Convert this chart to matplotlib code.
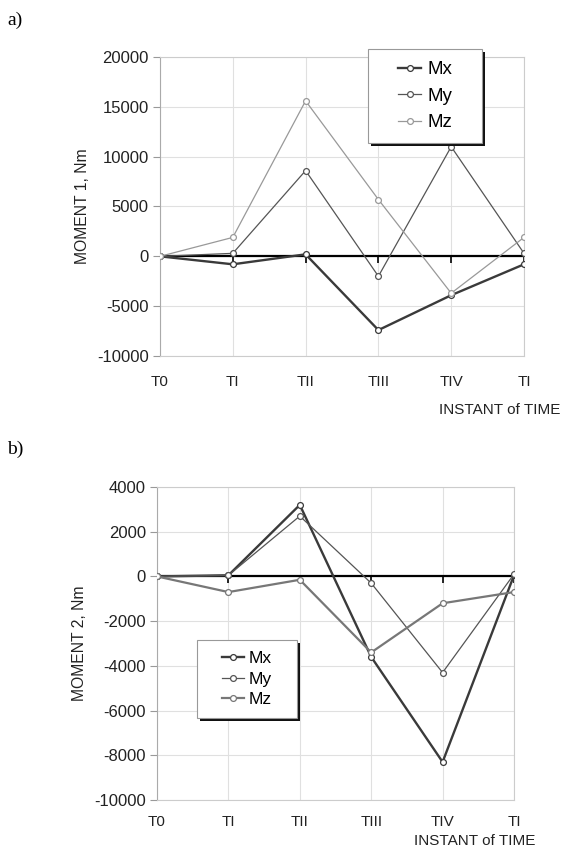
"""
plot.py — MOMENT 1 / MOMENT 2 vs instant of time (two panels)
"""

import numpy as np
import matplotlib
matplotlib.use('Agg')
import matplotlib.pyplot as plt
from matplotlib.patches import Rectangle

plt.rcParams['font.family'] = ['Liberation Sans', 'DejaVu Sans']
plt.rcParams['axes.unicode_minus'] = False

INSTANTS = ["T0", "TI", "TII", "TIII", "TIV", "TI"]

# panel a) MOMENT 1, Nm
M1_X = [0, -800, 200, -7400, -3900, -800]
M1_Y = [0, 300, 8600, -2000, 11000, 300]
M1_Z = [0, 1900, 15600, 5700, -3700, 1900]

# panel b) MOMENT 2, Nm
M2_X = [0, 50, 3200, -3600, -8300, 50]
M2_Y = [0, 50, 2700, -300, -4300, 100]
M2_Z = [0, -700, -150, -3400, -1200, -700]

SERIES = ["Mx", "My", "Mz"]

W, H = 575.0, 848.0


def draw_panel(ax, data, styles, ylim, yticks, ylabel, xpad):
    x = np.arange(len(INSTANTS))
    handles = []
    for name, vals, (col, lw) in zip(SERIES, data, styles):
        h, = ax.plot(x, vals, color=col, linewidth=lw, marker='o',
                     markersize=4.2, markerfacecolor='white',
                     markeredgecolor=col, markeredgewidth=0.9,
                     label=name, zorder=3)
        handles.append(h)
    # zero line with small tick marks at each instant
    ax.axhline(0, color='black', linewidth=1.6, zorder=2)
    ax.plot(x, np.zeros(len(x)), ls='none', marker=3, markersize=5,
            color='black', markeredgewidth=1.2, zorder=2)
    ax.set_xlim(0, len(INSTANTS) - 1)
    ax.set_ylim(*ylim)
    ax.set_yticks(yticks)
    ax.set_xticks(x)
    ax.set_xticklabels(INSTANTS)
    ax.tick_params(axis='x', length=0, labelsize=11, pad=xpad,
                   labelcolor='#222222')
    ax.tick_params(axis='y', length=5, width=0.8, color='#999999',
                   labelsize=12, pad=3, labelcolor='#222222')
    ax.set_ylabel(ylabel, fontsize=11.3, color='#222222', labelpad=5)
    ax.grid(color='#e0e0e0', linewidth=0.8)
    for s in ['top', 'right', 'bottom']:
        ax.spines[s].set_color('#cccccc')
    ax.spines['left'].set_color('#aaaaaa')
    return handles


def legend_box(fig, handles, box, fontsize, spacing):
    # box in pixels: left, top, right, bottom (with a black drop shadow)
    l, t, r, b = box
    fig.patches.append(Rectangle(((l + 3) / W, 1 - (b + 3) / H),
                                 (r - l) / W, (b - t) / H,
                                 transform=fig.transFigure,
                                 facecolor='#111111', edgecolor='none',
                                 zorder=2))
    fig.patches.append(Rectangle((l / W, 1 - b / H), (r - l) / W, (b - t) / H,
                                 transform=fig.transFigure,
                                 facecolor='white', edgecolor='#999999',
                                 linewidth=0.8, zorder=3))
    fig.legend(handles=handles, loc='center',
               bbox_to_anchor=((l + r) / 2 / W, 1 - (t + b) / 2 / H),
               frameon=False, fontsize=fontsize, handlelength=1.25,
               handletextpad=0.3, labelspacing=spacing, borderpad=0)


fig = plt.figure(figsize=(5.75, 8.48), dpi=100)

ax1 = fig.add_axes([160 / W, 1 - 356 / H, 364 / W, 299 / H])
h1 = draw_panel(ax1, [M1_X, M1_Y, M1_Z],
                [('#3a3a3a', 1.7), ('#555555', 0.9), ('#999999', 0.9)],
                (-10000, 20000), np.arange(-10000, 20001, 5000),
                "MOMENT 1, Nm", 14)
legend_box(fig, h1, (368, 49, 482, 143), 13.5, 0.5)

ax2 = fig.add_axes([157 / W, 1 - 800 / H, 357 / W, 313 / H])
h2 = draw_panel(ax2, [M2_X, M2_Y, M2_Z],
                [('#3a3a3a', 1.7), ('#555555', 0.9), ('#777777', 1.6)],
                (-10000, 4000), np.arange(-10000, 4001, 2000),
                "MOMENT 2, Nm", 11)
legend_box(fig, h2, (197, 640, 297, 718), 12.5, 0.3)

fig.text(7 / W, 1 - 20 / H, "a)", family='Liberation Serif', fontsize=14,
         va='center', ha='left')
fig.text(7 / W, 1 - 449 / H, "b)", family='Liberation Serif', fontsize=14,
         va='center', ha='left')
fig.text(560 / W, 1 - 410 / H, "INSTANT of TIME", fontsize=11,
         ha='right', va='center', color='#222222')
fig.text(535 / W, 1 - 841 / H, "INSTANT of TIME", fontsize=11,
         ha='right', va='center', color='#222222')

fig.savefig("out.png", dpi=100)
plt.close(fig)
